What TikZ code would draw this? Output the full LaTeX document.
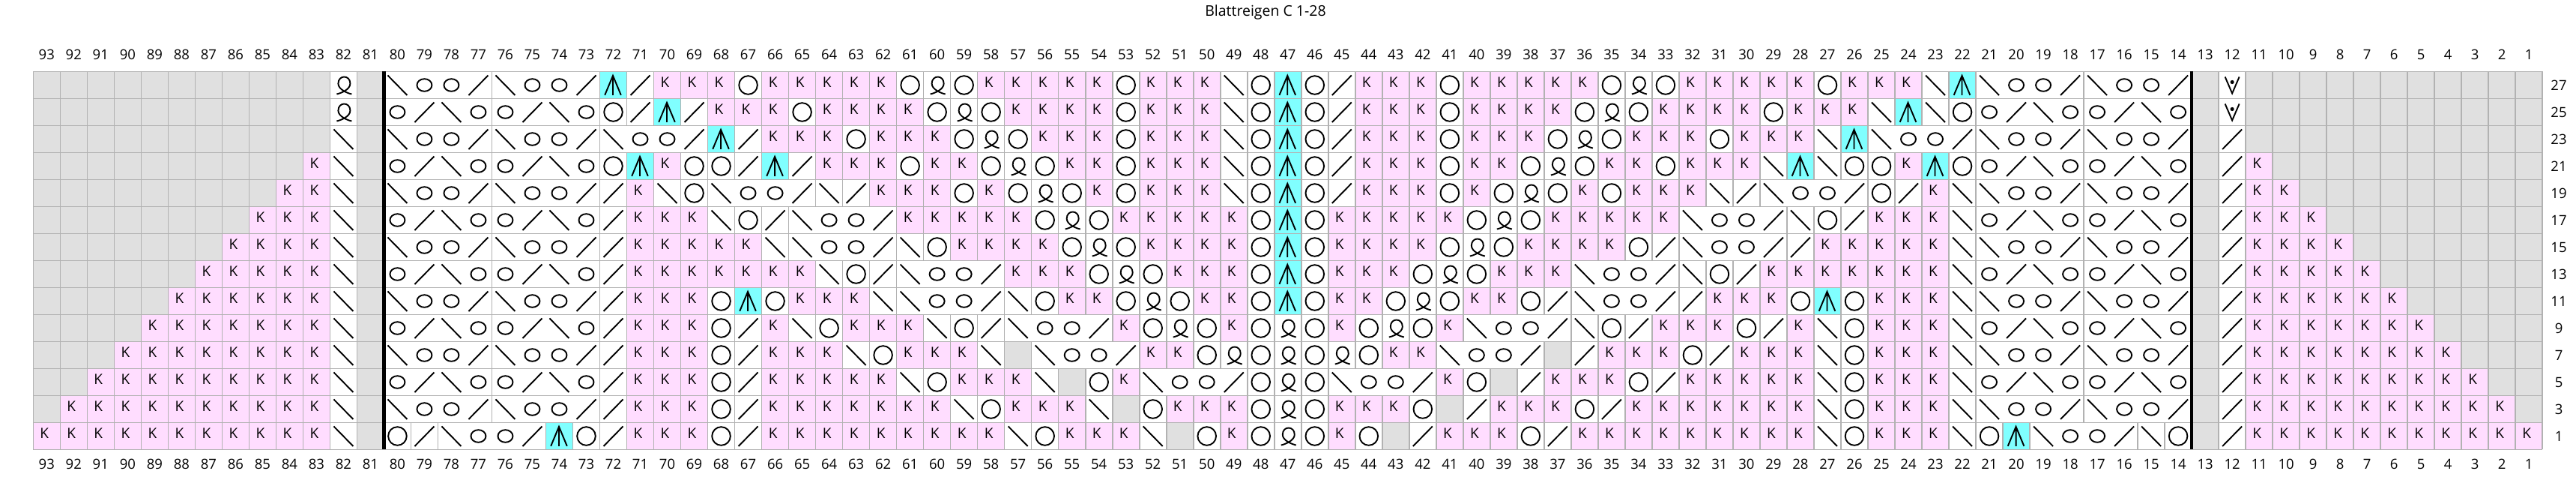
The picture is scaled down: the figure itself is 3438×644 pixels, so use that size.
\documentclass[tikz,border=0pt]{standalone}
\usepackage{fontspec}
\setmainfont{Open Sans}
\definecolor{kpink}{RGB}{255,221,255}
\definecolor{kgray}{RGB}{224,224,224}
\definecolor{kcyan}{RGB}{128,255,255}
\definecolor{kgrid}{RGB}{178,178,178}
\newcount\ci
\newcount\rj
\newif\ifnoleft
\def\CW{36.01}
\def\GX{44.3}
\def\GT{548.5}
\tikzset{
  sym/.style={line width=1.9pt, draw=black},
  gridline/.style={line width=1.6pt, draw=kgrid},
  ktext/.style={inner sep=0pt, font=\fontsize{19}{19}\selectfont},
  lab/.style={inner sep=0pt, font=\fontsize{18.5}{18.5}\selectfont},
}
% cell contents (local coordinates, origin bottom-left, 36 x 36)
\def\kcg{\fill[kgray] (0,0) rectangle (36.01,36);}
\def\kcK{\fill[kpink] (0,0) rectangle (36.01,36);\node[ktext] at (15,22) {K};}
\def\kco{\draw[sym] (18,18) ellipse [x radius=10, y radius=8.3];}
\def\kcO{\draw[sym] (18,18) circle [radius=12.3];}
\def\kcr{\draw[sym] (5,4.5) -- (31,31);}
\def\kcl{\draw[sym] (5,31) -- (31,4.5);}
\def\kcA{\fill[kcyan] (0,0) rectangle (36.01,36);\draw[sym] (6.7,4.7) -- (17.5,30.6) -- (28.3,4.7) (17.5,30.6) -- (17.5,4.7);}
\def\kcQ{\draw[sym] (9,6) .. controls (14,7) and (27,12) .. (27,20) .. controls (27,26) and (23,29) .. (19,29) .. controls (15,29) and (11,26) .. (11,20) .. controls (11,12) and (24,7) .. (29,6);}
\def\kcV{\draw[sym] (8.5,29) -- (18,7) -- (27.5,29);\fill (18,22) circle [radius=2.6];}
% pass A: fills and symbols
\def\passA#1{\if#1-\else
  \pgfmathsetmacro\cx{\GX+\CW*\the\ci}%
  \pgfmathsetmacro\cy{\GT-36*(\the\rj+1)}%
  \begin{scope}[shift={(\cx,\cy)}]\csname kc#1\endcsname\end{scope}%
  \global\advance\ci by 1\relax
 \fi}
% pass B: vertical cell borders (suppressed inside stitch groups, marked by -)
\def\passB#1{\if#1-\global\nolefttrue\else
  \ifnoleft\else
   \pgfmathsetmacro\cx{\GX+\CW*\the\ci}%
   \pgfmathsetmacro\cy{\GT-36*(\the\rj+1)}%
   \draw[gridline] (\cx,\cy) -- (\cx,\cy+36);%
  \fi
  \global\noleftfalse
  \global\advance\ci by 1\relax
 \fi}
\def\kpparse#1{\ifx#1.\let\kpnext\relax\else\kphandle{#1}\let\kpnext\kpparse\fi\kpnext}
\def\dorow#1#2{\global\ci=0\relax\global\rj=#1\relax\kpparse#2.}
\def\allrows{%
\dorow{0}{ggggggggggg Q g l-o-o-r l-o-o-r ArKKKOKKKKKOQOKKKKKOKKKlOAOrKKKOKKKKKOQOKKKKKOKKKlA l-o-o-r l-o-o-r g V ggggggggggg}%
\dorow{1}{ggggggggggg Q g o-r-l-o o-r-l-o OrArKKKOKKKKOQOKKKKOKKKlOAOrKKKOKKKKOQOKKKKOKKKlAlO o-r-l-o o-r-l-o g V ggggggggggg}%
\dorow{2}{ggggggggggg l g l-o-o-r l-o-o-r l-o-o-r ArKKKOKKKOQOKKKOKKKlOAOrKKKOKKKOQOKKKOKKKlA l-o-o-r l-o-o-r l-o-o-r g r ggggggggggg}%
\dorow{3}{gggggggggg K l g o-r-l-o o-r-l-o OAKOOrArKKKOKKOQOKKOKKKlOAOrKKKOKKOQOKKOKKKlAlOOKAO o-r-l-o o-r-l-o g r K gggggggggg}%
\dorow{4}{ggggggggg KK l g l-o-o-r l-o-o-r rKlO l-o-o-r lrKKKOKOQOKOKKKlOAOrKKKOKOQOKOKKKlr l-o-o-r OrKl l-o-o-r l-o-o-r g r KK ggggggggg}%
\dorow{5}{gggggggg KKK l g o-r-l-o o-r-l-o rKKKlOr l-o-o-r KKKKKOQOKKKKKOAOKKKKKOQOKKKKK l-o-o-r lOrKKKl o-r-l-o o-r-l-o g r KKK gggggggg}%
\dorow{6}{ggggggg KKKK l g l-o-o-r l-o-o-r rKKKKKl l-o-o-r lOKKKKOQOKKKKOAOKKKKOQOKKKKOr l-o-o-r rKKKKKl l-o-o-r l-o-o-r g r KKKK ggggggg}%
\dorow{7}{gggggg KKKKK l g o-r-l-o o-r-l-o rKKKKKKKlOr l-o-o-r KKKOQOKKKOAOKKKOQOKKK l-o-o-r lOrKKKKKKKl o-r-l-o o-r-l-o g r KKKKK gggggg}%
\dorow{8}{ggggg KKKKKK l g l-o-o-r l-o-o-r rKKKOAOKKKl l-o-o-r lOKKOQOKKOAOKKOQOKKOr l-o-o-r rKKKOAOKKKl l-o-o-r l-o-o-r g r KKKKKK ggggg}%
\dorow{9}{gggg KKKKKKK l g o-r-l-o o-r-l-o rKKKOrKlOKKKlOr l-o-o-r KOQOKOQOKOQOK l-o-o-r lOrKKKOrKlOKKKl o-r-l-o o-r-l-o g r KKKKKKK gggg}%
\dorow{10}{ggg KKKKKKKK l g l-o-o-r l-o-o-r rKKKOrKKKlOKKKlg l-o-o-r KKOQOQOQOKK l-o-o-r grKKKOrKKKlOKKKl l-o-o-r l-o-o-r g r KKKKKKKK ggg}%
\dorow{11}{gg KKKKKKKKK l g o-r-l-o o-r-l-o rKKKOrKKKKKlOKKKlgOK l-o-o-r OQO l-o-o-r KOgrKKKOrKKKKKlOKKKl o-r-l-o o-r-l-o g r KKKKKKKKK gg}%
\dorow{12}{g KKKKKKKKKK l g l-o-o-r l-o-o-r rKKKOrKKKKKKKlOKKKlgOKKKOQOKKKOgrKKKOrKKKKKKKlOKKKl l-o-o-r l-o-o-r g r KKKKKKKKKK g}%
\dorow{13}{KKKKKKKKKKK l g O r l-o-o-r A O rKKKOrKKKKKKKKKlOKKKlgOKOQOKOgrKKKOrKKKKKKKKKlOKKKl O A l-o-o-r l O g r KKKKKKKKKKK}%
}
\begin{document}
\begin{tikzpicture}[x=1pt,y=1pt]
\fill[white] (0,0) rectangle (3438,644);
\useasboundingbox (0,0) rectangle (3438,644);
\node[lab, font=\fontsize{19.5}{19.5}\selectfont] (title) at (1689,627.5) {Blattreigen C 1-28};
\let\kphandle\passA
\allrows
\let\kphandle\passB
\allrows
\pgfmathsetmacro\GR{\GX+93*\CW}
\pgfmathsetmacro\GB{\GT-504}
\draw[gridline] (\GR,\GT) -- (\GR,\GB);
\foreach \k in {0,...,14} {\draw[gridline] (\GX,\GT-36*\k) -- (\GR,\GT-36*\k);}
\pgfmathsetmacro\TA{\GX+13*\CW}
\pgfmathsetmacro\TB{\GX+80*\CW}
\draw[line width=4.5pt] (\TA,\GT) -- (\TA,\GB);
\draw[line width=4.5pt] (\TB,\GT) -- (\TB,\GB);
\foreach \i in {0,...,92} {
  \pgfmathtruncatemacro\n{93-\i}
  \node[lab] (top\n) at ({\GX+\CW*(\i+0.5)},571.5) {\n};
  \node[lab] (bot\n) at ({\GX+\CW*(\i+0.5)},25) {\n};
}
\foreach \j in {0,...,13} {
  \pgfmathtruncatemacro\rn{27-2*\j}
  \node[lab] (row\rn) at (3415,{\GT-36*\j-18}) {\rn};
}
\end{tikzpicture}
\end{document}
